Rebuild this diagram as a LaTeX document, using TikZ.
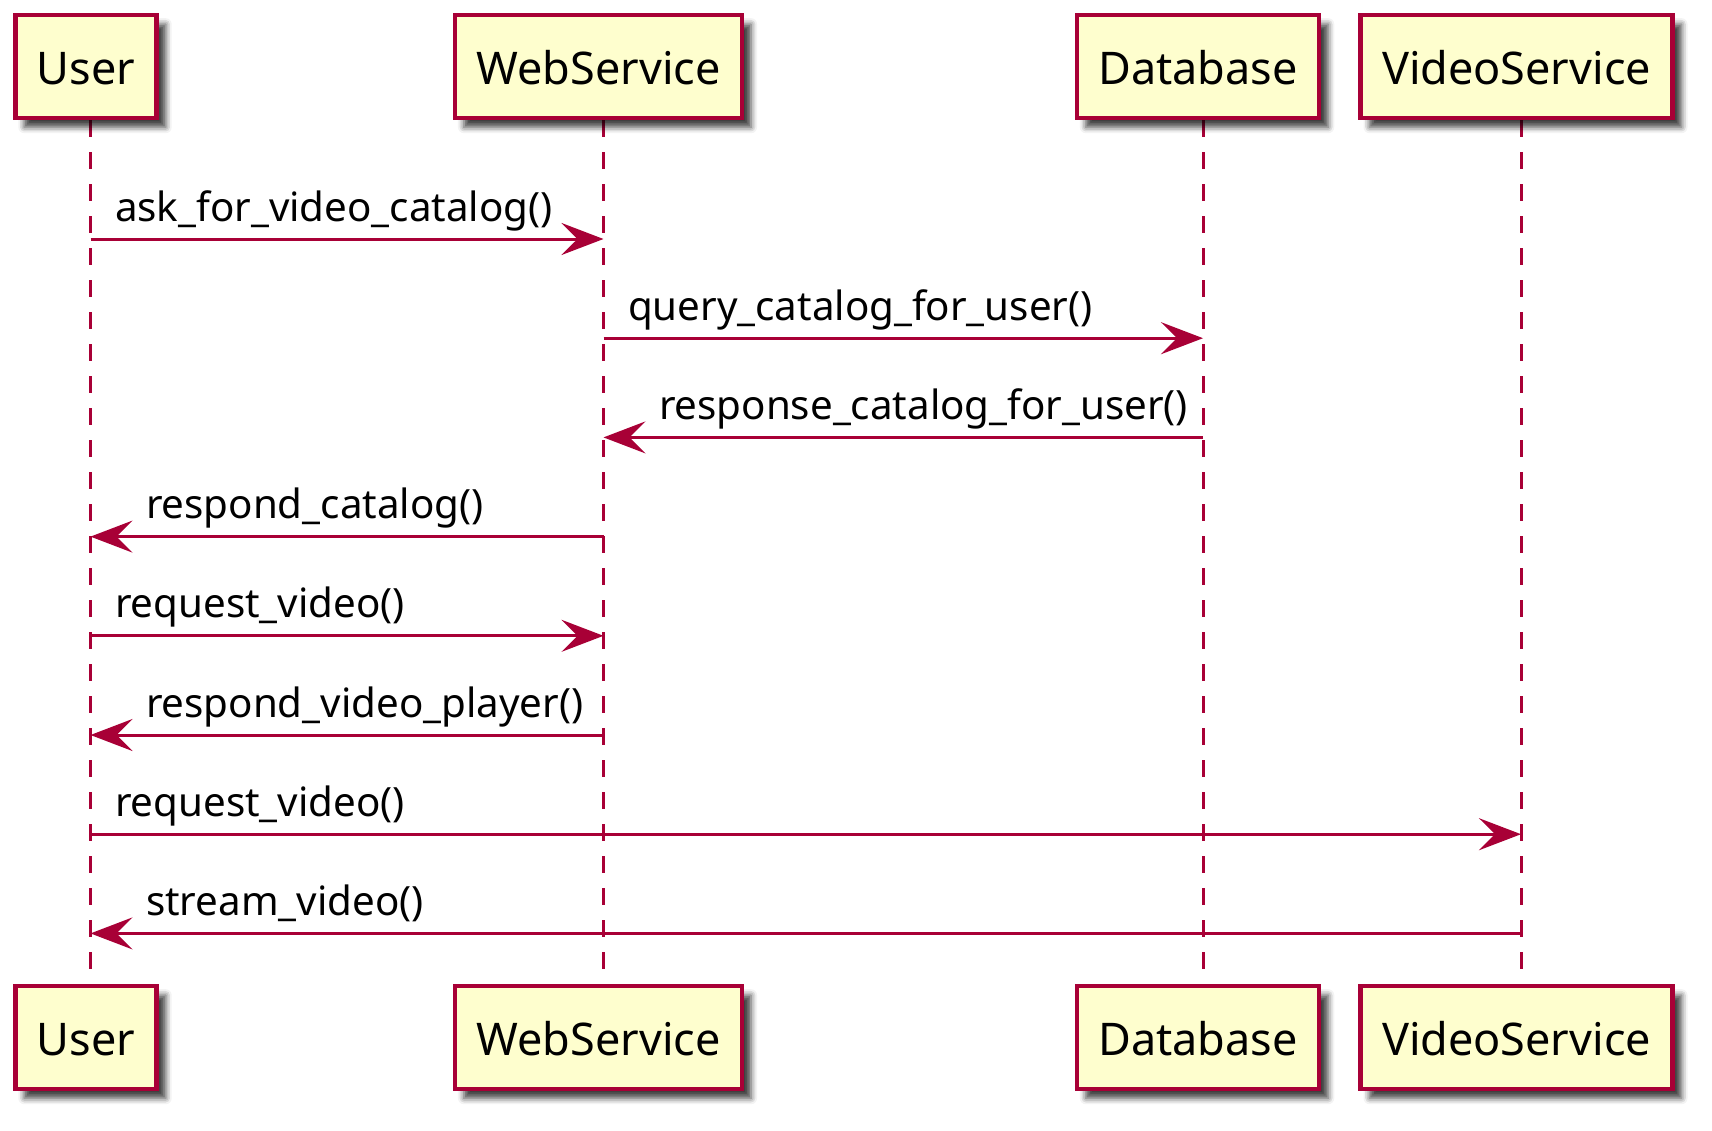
\documentclass[tikz,border=0pt]{standalone}
\usepackage{fontspec}
\setmainfont{Noto Sans}
\usepackage{tikz}
\usetikzlibrary{arrows.meta,shadows.blur,backgrounds}
\definecolor{umlred}{HTML}{A80036}
\definecolor{umlfill}{HTML}{FEFECE}
\begin{document}
\begin{tikzpicture}[x=1pt,y=-1pt,
  actor/.style={draw=umlred,line width=4.5pt,fill=umlfill,inner xsep=21.5pt,minimum height=103pt,
    text height=36pt,text depth=0pt,font=\fontsize{45}{52}\selectfont,
    blur shadow={shadow xshift=9pt,shadow yshift=-9pt,shadow blur radius=6pt,shadow opacity=75}},
  life/.style={draw=umlred,line width=3pt,dash pattern=on 17pt off 15pt},
  msg/.style={draw=umlred,line width=3pt,-{Stealth[length=42pt,width=32pt,inset=16pt]}},
  lbl/.style={inner sep=0pt,font=\fontsize{40.3}{47}\selectfont}]
\useasboundingbox (0,0) rectangle (1712,1130);
% participants
\node[actor] (user) at (86,66.7) {User};
\node[actor] (web) at (598.5,66.7) {WebService};
\node[actor] (db) at (1198,66.7) {Database};
\node[actor] (video) at (1516.5,66.7) {VideoService};
\node[actor] (userB) at (86,1037.7) {User};
\node[actor] (webB) at (598.5,1037.7) {WebService};
\node[actor] (dbB) at (1198,1037.7) {Database};
\node[actor] (videoB) at (1516.5,1037.7) {VideoService};
% lifelines
\begin{scope}[on background layer]
\draw[life] ([xshift=4.5pt]user.south) coordinate (uL) -- ([xshift=4.5pt]userB.north);
\draw[life] ([xshift=5pt]web.south) coordinate (wL) -- ([xshift=5pt]webB.north);
\draw[life] ([xshift=5pt]db.south) coordinate (dL) -- ([xshift=5pt]dbB.north);
\draw[life] ([xshift=4.5pt]video.south) coordinate (vL) -- ([xshift=4.5pt]videoB.north);
\end{scope}
% message rows
\coordinate (m1) at (0,239);   \coordinate (m2) at (0,338.2);
\coordinate (m3) at (0,437.4); \coordinate (m4) at (0,536.6);
\coordinate (m5) at (0,635.8); \coordinate (m6) at (0,735);
\coordinate (m7) at (0,834.2); \coordinate (m8) at (0,933.4);
\draw[msg] (uL|-m1) -- (wL|-m1) node[lbl,pos=0,anchor=base west,xshift=23pt,yshift=18pt] (t1) {ask\_for\_video\_catalog()};
\draw[msg] (wL|-m2) -- (dL|-m2) node[lbl,pos=0,anchor=base west,xshift=23pt,yshift=18pt] (t2) {query\_catalog\_for\_user()};
\draw[msg] (dL|-m3) -- (wL|-m3) node[lbl,pos=1,anchor=base west,xshift=54pt,yshift=18pt] (t3) {response\_catalog\_for\_user()};
\draw[msg] (wL|-m4) -- (uL|-m4) node[lbl,pos=1,anchor=base west,xshift=54pt,yshift=18pt] (t4) {respond\_catalog()};
\draw[msg] (uL|-m5) -- (wL|-m5) node[lbl,pos=0,anchor=base west,xshift=23pt,yshift=18pt] (t5) {request\_video()};
\draw[msg] (wL|-m6) -- (uL|-m6) node[lbl,pos=1,anchor=base west,xshift=54pt,yshift=18pt] (t6) {respond\_video\_player()};
\draw[msg] (uL|-m7) -- (vL|-m7) node[lbl,pos=0,anchor=base west,xshift=23pt,yshift=18pt] (t7) {request\_video()};
\draw[msg] (vL|-m8) -- (uL|-m8) node[lbl,pos=1,anchor=base west,xshift=54pt,yshift=18pt] (t8) {stream\_video()};
\end{tikzpicture}
\end{document}
